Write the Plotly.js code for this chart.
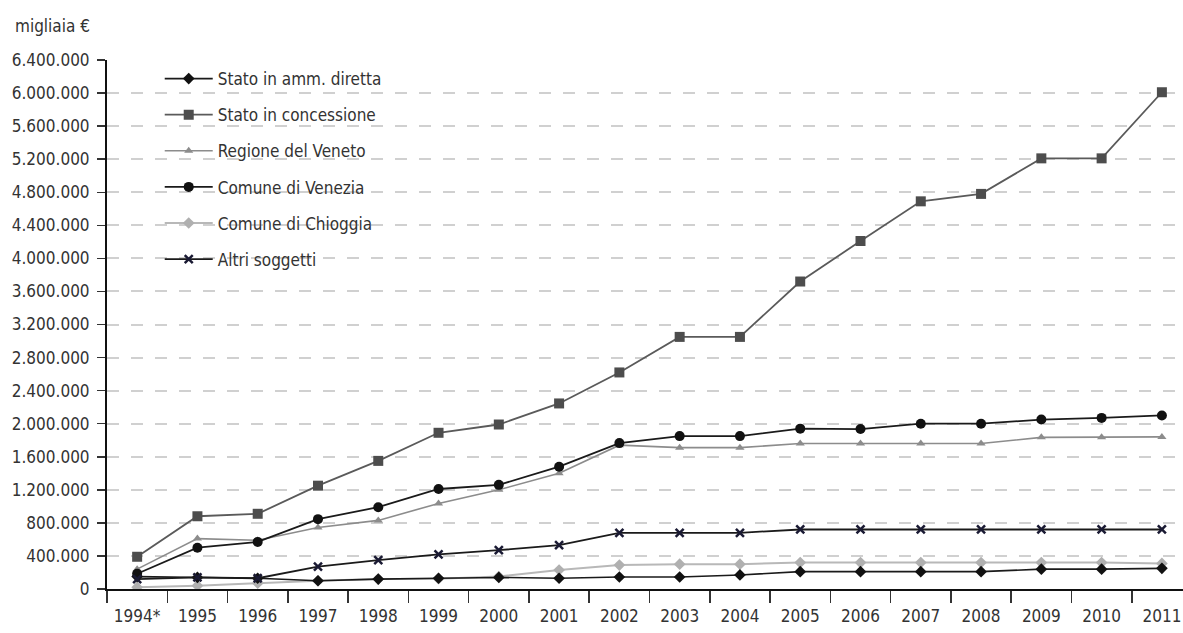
<!DOCTYPE html>
<html>
<head>
<meta charset="utf-8">
<script src="https://cdn.plot.ly/plotly-3.0.1.min.js"></script>
<style>
  html, body { margin: 0; padding: 0; background: #fff; }
  #chart { width: 1183px; height: 633px; }
</style>
</head>
<body>
<div id="chart"></div>
<script>
const years = ['1994*','1995','1996','1997','1998','1999','2000','2001','2002','2003','2004','2005','2006','2007','2008','2009','2010','2011'];

const statoDiretta     = [150000, 140000, 130000, 100000, 120000, 130000, 140000, 130000, 145000, 145000, 170000, 210000, 210000, 210000, 210000, 240000, 240000, 250000];
const statoConcessione = [390000, 880000, 910000, 1250000, 1550000, 1890000, 1990000, 2245000, 2620000, 3050000, 3050000, 3720000, 4210000, 4690000, 4780000, 5210000, 5210000, 6010000];
const regioneVeneto    = [240000, 610000, 590000, 745000, 830000, 1035000, 1200000, 1400000, 1740000, 1710000, 1710000, 1760000, 1760000, 1760000, 1760000, 1835000, 1835000, 1840000];
const comuneVenezia    = [185000, 500000, 570000, 845000, 990000, 1210000, 1260000, 1480000, 1765000, 1850000, 1850000, 1940000, 1935000, 2000000, 2000000, 2050000, 2070000, 2100000];
const comuneChioggia   = [20000, 40000, 70000, 100000, 120000, 125000, 150000, 230000, 290000, 300000, 300000, 320000, 320000, 320000, 320000, 320000, 320000, 310000];
const altriSoggetti    = [120000, 140000, 130000, 270000, 350000, 420000, 470000, 530000, 680000, 680000, 680000, 720000, 720000, 720000, 720000, 720000, 720000, 720000];

const seriesNames = ['Stato in amm. diretta','Stato in concessione','Regione del Veneto','Comune di Venezia','Comune di Chioggia','Altri soggetti'];

const FONT = '"DejaVu Sans Condensed", "Liberation Sans Narrow", "DejaVu Sans", sans-serif';
const TXT = '#333333';

function mk(name, y, lineColor, lineWidth, symbol, mSize, mColor, grp) {
  return {
    type: 'scatter', mode: 'lines+markers', name: name, x: years, y: y,
    legendgroup: grp,
    line: {color: lineColor, width: lineWidth},
    marker: {symbol: symbol, size: mSize, color: mColor, line: {width: 0}}
  };
}

const traces = [
  mk(seriesNames[4], comuneChioggia, '#b8b8b8', 2, 'diamond', 9, '#b0b0b0', 'g5'),
  mk(seriesNames[0], statoDiretta, '#1a1a1a', 1.6, 'diamond', 9, '#111111', 'g1'),
  mk(seriesNames[2], regioneVeneto, '#8c8c8c', 1.6, 'triangle-up', 8, '#8c8c8c', 'g3'),
  mk(seriesNames[3], comuneVenezia, '#1a1a1a', 1.8, 'circle', 10, '#111111', 'g4'),
  mk(seriesNames[1], statoConcessione, '#5a5a5a', 1.8, 'square', 10, '#4d4d4d', 'g2'),
  mk(seriesNames[5], altriSoggetti, '#1a1a1a', 1.8, 'x-thin', 8, '#1a1a33', 'g6')
];
traces[5].marker.line = {width: 2.5, color: '#1a1a33'};
traces.forEach(t => { t.legendrank = seriesNames.indexOf(t.name) + 1; });

const layout = {
  width: 1183, height: 633,
  margin: {l: 107, r: 0, t: 60, b: 44, pad: 0},
  paper_bgcolor: '#ffffff', plot_bgcolor: '#ffffff',
  separators: ',.',
  font: {family: FONT, color: TXT, size: 17},
  title: {
    text: 'migliaia €', font: {family: FONT, size: 17, color: TXT},
    xref: 'container', yref: 'container', x: 15/1183, xanchor: 'left',
    y: 1 - 26/633, yanchor: 'middle'
  },
  xaxis: {
    type: 'category', range: [-0.5, 17.35],
    showline: true, linecolor: '#111111', linewidth: 2,
    ticks: 'outside', tickson: 'boundaries', ticklen: 12, tickwidth: 1.5, tickcolor: '#333333',
    showgrid: false, zeroline: false,
    tickfont: {family: FONT, size: 17, color: TXT},
    ticklabelstandoff: 11
  },
  yaxis: {
    range: [0, 6400000], dtick: 400000, tick0: 0, tickformat: ',d',
    showline: true, linecolor: '#111111', linewidth: 2,
    ticks: 'outside', ticklen: 8, tickwidth: 1.5, tickcolor: '#333333',
    showgrid: true, gridcolor: '#d0d0d0', gridwidth: 2, griddash: '12px,12px',
    zeroline: false,
    tickfont: {family: FONT, size: 17, color: TXT},
    ticklabelstandoff: 4
  },
  showlegend: true,
  legend: {
    x: 0.049, y: 0.998, xanchor: 'left', yanchor: 'top',
    bgcolor: 'rgba(0,0,0,0)', borderwidth: 0,
    traceorder: 'grouped', tracegroupgap: 11, itemwidth: 48,
    font: {family: FONT, size: 17, color: TXT}
  }
};

Plotly.newPlot('chart', traces, layout, {staticPlot: true, displayModeBar: false});
</script>
</body>
</html>
